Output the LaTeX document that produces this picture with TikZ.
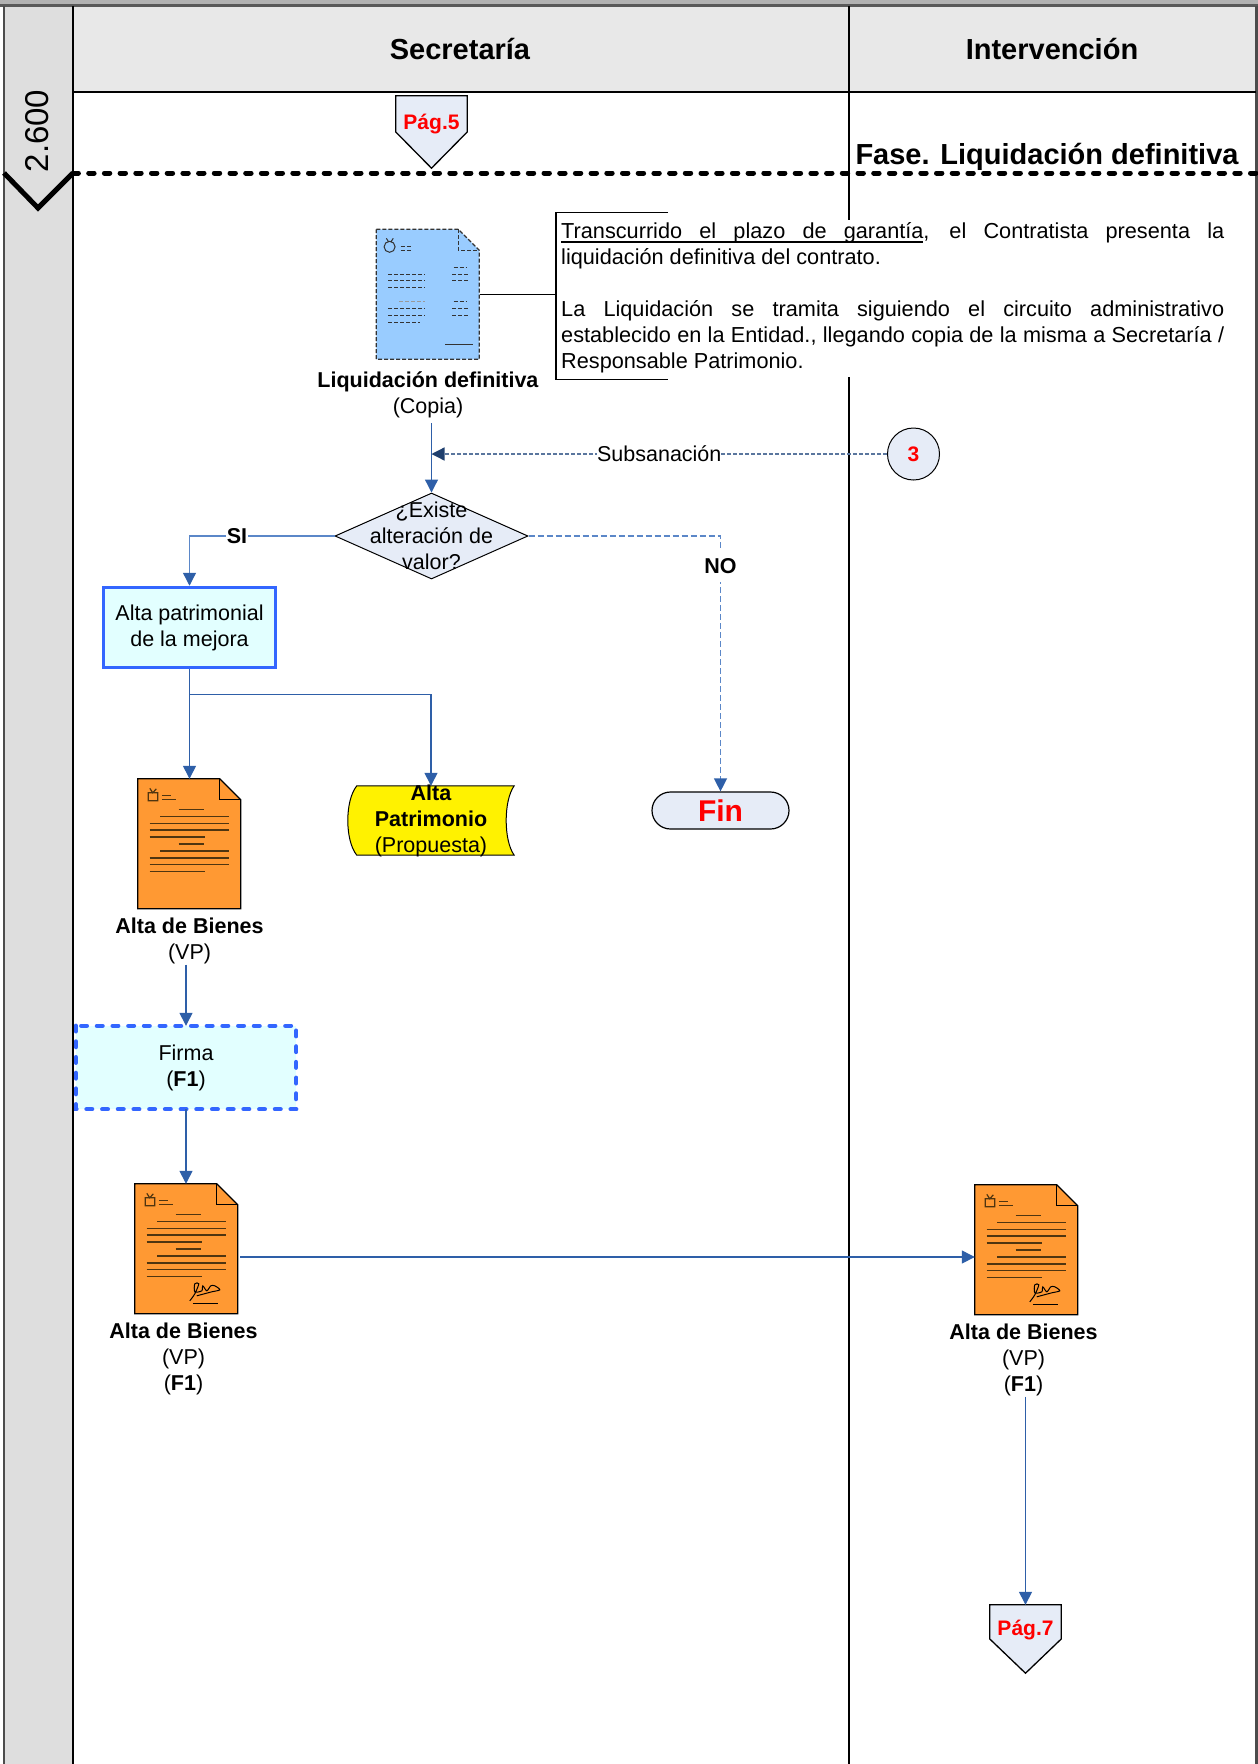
\documentclass[tikz,border=0pt]{standalone}
\usepackage{fontspec}
\setmainfont{Liberation Sans}
\usepackage{xcolor}
\usepackage{tikz}
\usetikzlibrary{arrows.meta,positioning,shapes.geometric}

\definecolor{azul}{HTML}{2E5FA8}
\definecolor{azulclaro}{HTML}{5B87C8}
\definecolor{pizarra}{HTML}{5A769E}
\definecolor{marino}{HTML}{1F3F6E}
\definecolor{borde}{HTML}{3366FF}
\definecolor{relleno}{HTML}{E6ECF7}
\definecolor{celeste}{HTML}{E2FFFF}
\definecolor{naranja}{HTML}{FF9933}
\definecolor{cielo}{HTML}{99CCFF}
\definecolor{tinta}{HTML}{4F3510}

% Underlined word and the stretching space after it
\newcommand{\subra}[1]{\setbox0\hbox{#1}\rlap{\rule[-4.2pt]{\wd0}{1.6pt}}\box0}
\newcommand{\subesp}{\leaders\hrule height -2.6pt depth 4.2pt\hskip\fontdimen2\font plus\fontdimen3\font minus\fontdimen4\font}

% Sheet drawn round a named node
\newcommand{\hojaforma}[3]{%
  \begin{scope}[shift={(#1.north west)}]
    \draw[line width=1.3pt, #3, fill=#2] (0,0) -- (82,0) -- (103,21) -- (103,130) -- (0,130) -- cycle;
    \draw[line width=1.3pt, #3] (82,0) -- (82,21) -- (103,21);
  \end{scope}}
\newcommand{\hojatexto}[1]{%
  \begin{scope}[shift={(#1.north west)}, tinta, line width=1.5pt]
    \draw[line width=1.2pt] (10.5,14) rectangle (20,22) (12,9.5) -- (15,14) -- (18.5,10);
    \draw (24,16.7) -- (33,16.7) (24,20.5) -- (38,20.5);
    \draw (40.7,30.7) -- (65.7,30.7) (22.3,37.7) -- (91.3,37.7);
    \draw (11.7,44.7) -- (91.3,44.7) (11.7,51.3) -- (91.3,51.3) (11.7,58.3) -- (67.3,58.3);
    \draw (40.7,65.3) -- (65.7,65.3) (22.3,72) -- (91.3,72);
    \draw (11.7,79) -- (91.3,79) (11.7,85.7) -- (91.3,85.7) (11.7,92.7) -- (67.3,92.7);
  \end{scope}}
\newcommand{\hojafirma}[1]{%
  \begin{scope}[shift={(#1.north west)}, black, line width=1pt]
    \draw plot[smooth] coordinates {(55,117) (60,110) (64,100) (60,100) (60,108) (67,107) (68,102) (72,107) (76,102) (80,102) (85,106) (77,108) (62,112)};
    \draw (58,120) -- (82.7,120);
  \end{scope}}

\begin{document}
\begin{tikzpicture}[
  x=1pt, y=-1pt,
  font=\fontsize{21.5}{26}\selectfont,
  base/.style={line width=1.3pt, black},
  titulo/.style={font=\fontsize{29}{34}\selectfont\bfseries},
  negrita/.style={font=\fontsize{21.5}{26}\selectfont\bfseries},
  rojo/.style={text=red, font=\fontsize{21}{25}\selectfont\bfseries},
  etiqueta/.style={align=center, inner sep=0pt},
  hoja/.style={minimum width=103pt, minimum height=130pt, inner sep=0pt},
  caja/.style={fill=celeste, align=center, inner sep=0pt},
  pagina/.style={minimum width=71pt, minimum height=72pt, inner sep=0pt},
  flecha/.style={-{Triangle[length=13pt,width=13pt,color=azul,fill=azul]}, azul, line width=1.3pt},
  rotulo/.style={fill=white, inner sep=1pt, text=black}
]
  \useasboundingbox (0,0) rectangle (1258,1764);

  % Lanes
  \fill[gray!60] (0,0) rectangle (1258,5);
  \fill[black!13] (4,6) rectangle (73,1764);
  \fill[black!9] (73,6) rectangle (1256,92);
  \draw[line width=2.5pt, black!65] (0,5.5) -- (1258,5.5);
  \draw[line width=2pt, black!70] (4,5.5) -- (4,1764);
  \draw[line width=2.5pt, black!70] (1256.5,5.5) -- (1256.5,1764);
  \draw[base] (73,5.5) -- (73,1764);
  \draw[base] (849,5.5) -- (849,1764);
  \draw[base] (73,92) -- (1256,92);
  \node[titulo] (secre) at (460,49) {Secretaría};
  \node[titulo] (inter) at (1052,49) {Intervención};

  % Phase mark
  \node[rotate=90, font=\fontsize{33}{38}\selectfont] (num) at (37,131) {2.600};
  \draw[black, line width=5pt, dash pattern=on 5.4pt off 10.3pt, line cap=round] (73,173) -- (1256,173);
  \draw[black, line width=5pt] (4,173) -- (38,208) -- (73,173);
  \node[titulo] (fase) at (1047,157) {Fase. Liquidación definitiva};

  % Page in
  \node[pagina] (pag5) at (431.5,132) {};
  \draw[base, fill=relleno] (pag5.north west) -- (pag5.north east) -- (pag5.east) -- (pag5.south) -- (pag5.west) -- cycle;
  \node[rojo] (txt5) at (431.5,124) {Pág.5};

  % Copy of the settlement
  \node[hoja] (liq) at (428,294.5) {};
  \hojaforma{liq}{cielo}{dash pattern=on 4pt off 2pt, black!80}
  \begin{scope}[shift={(liq.north west)}, black!80, line width=1pt, dash pattern=on 4pt off 2pt]
    \draw[solid] (13.3,17.5) circle (5.5) (10,9) -- (12,12) (17,9) -- (15,12);
    \draw (24.3,16.7) -- (35,16.7) (24.3,20.7) -- (35,20.7);
    \draw (11.7,44.7) -- (48.3,44.7) (11.7,51.3) -- (48.3,51.3) (11.7,58.3) -- (48.3,58.3);
    \draw[black!40] (22.7,72) -- (48.3,72);
    \draw (11.7,79) -- (48.3,79) (11.7,85.7) -- (48.3,85.7) (11.7,92.7) -- (43.3,92.7);
    \draw (77.3,38) -- (90,38) (76,44.7) -- (91.7,44.7) (76,51.3) -- (91.7,51.3);
    \draw (77.3,72) -- (90,72) (76,79) -- (91.7,79) (76,85.7) -- (91.7,85.7);
    \draw[solid] (68.7,115) -- (96.7,115);
  \end{scope}
  \node[etiqueta, below=12pt of liq] (liqtxt) {\textbf{Liquidación definitiva}\\(Copia)};

  % Note
  \node[fill=white, minimum height=157pt, text width=663pt, align=justify, inner xsep=5pt, inner ysep=0pt, anchor=west, font=\fontsize{21.7}{26}\selectfont] (nota) at (556,298)
    {\subra{Transcurrido}\subesp\subra{el}\subesp\subra{plazo}\subesp\subra{de}\subesp\subra{garantía}, el Contratista presenta la\linebreak liquidación definitiva del contrato.\\[26pt]
    La Liquidación se tramita siguiendo el circuito administrativo\linebreak establecido en la Entidad., llegando copia de la misma a Secretaría /\linebreak Responsable Patrimonio.};
  \draw[base] ([xshift=112pt,yshift=6.5pt]nota.north west) -- ([yshift=6.5pt]nota.north west) -- ([yshift=-2.5pt]nota.south west) -- ([xshift=112pt,yshift=-2.5pt]nota.south west);
  \draw[base] (liq.east) -- (liq.east -| nota.west);

  % Decision
  \node[diamond, draw, fill=relleno, line width=1pt, aspect=2.24, minimum width=193pt, minimum height=86pt, inner sep=0pt,
    label={[etiqueta]center:¿Existe\\alteración de\\valor?}] (dec) at (431.5,536) {};
  \node[circle, draw, fill=relleno, line width=1pt, minimum size=52pt, inner sep=0pt, rojo] (tres) at (913.5,454) {3};

  % Results
  \node[caja, draw=borde, line width=3.5pt, minimum width=172pt, minimum height=80pt] (alta) at (189.5,627.5) {Alta patrimonial\\de la mejora};
  \node[rounded corners=18.5pt, draw, fill=relleno, line width=1.2pt, minimum width=137pt, minimum height=37pt, inner sep=0pt, text=red, font=\fontsize{30}{34}\selectfont\bfseries] (fin) at (720.5,810.5) {Fin};

  \node[minimum width=166pt, minimum height=69pt, inner sep=0pt] (pat) at (431,820.5) {};
  \draw[fill=yellow, line width=1pt] ([xshift=9pt]pat.north west) .. controls ([xshift=-3pt,yshift=20pt]pat.west) and ([xshift=-3pt,yshift=-20pt]pat.west) .. ([xshift=9pt]pat.south west) -- (pat.south east) .. controls ([xshift=-10.7pt,yshift=-20pt]pat.east) and ([xshift=-10.7pt,yshift=20pt]pat.east) .. (pat.north east) -- cycle;
  \node[etiqueta] (pattxt) at (pat.center) {\textbf{Alta}\\\textbf{Patrimonio}\\(Propuesta)};

  % Signed sheets
  \node[hoja] (bien) at (189.5,844) {};
  \hojaforma{bien}{naranja}{black}
  \hojatexto{bien}
  \node[etiqueta, below=9pt of bien] (bientxt) {\textbf{Alta de Bienes}\\(VP)};

  \node[caja, minimum width=220pt, minimum height=83pt] (firma) at (186,1067.5) {Firma\\(\textbf{F1})};
  \draw[borde, line width=4.5pt, dash pattern=on 5.5pt off 10.2pt, line cap=round] (firma.north west) rectangle (firma.south east);

  \node[hoja] (bienf) at (186.5,1249) {};
  \hojaforma{bienf}{naranja}{black}
  \hojatexto{bienf}
  \hojafirma{bienf}
  \node[etiqueta, below=9pt of bienf, xshift=-3pt] (bienftxt) {\textbf{Alta de Bienes}\\(VP)\\(\textbf{F1})};

  \node[hoja] (bieni) at (1026.5,1250) {};
  \hojaforma{bieni}{naranja}{black}
  \hojatexto{bieni}
  \hojafirma{bieni}
  \node[etiqueta, below=9pt of bieni, xshift=-3pt] (bienitxt) {\textbf{Alta de Bienes}\\(VP)\\(\textbf{F1})};

  % Page out
  \node[pagina, minimum height=68pt] (pag7) at (1025.5,1639) {};
  \draw[base, fill=relleno] (pag7.north west) -- (pag7.north east) -- (pag7.east) -- (pag7.south) -- (pag7.west) -- cycle;
  \node[rojo] (txt7) at (1025.5,1630) {Pág.7};

  % Arrows
  \draw[flecha] ([yshift=-5pt]dec.north |- liqtxt.south) -- (dec.north);
  \draw[-{Triangle[length=13pt,width=13pt,color=marino,fill=marino]}, pizarra, line width=1.3pt, dash pattern=on 4pt off 2pt] (tres.west) -- (dec.north |- tres.west)
    node[pos=0.5, rotulo, inner xsep=0pt] (sub) {Subsanación};
  \draw[flecha, azulclaro] (dec.west) -| (alta.north) node[pos=0.336, rotulo, negrita] (si) {SI};
  \draw[flecha, azulclaro, dash pattern=on 6pt off 3pt] (dec.east) -| (fin.north) node[pos=0.559, rotulo, inner ysep=8pt, negrita] (no) {NO};
  \draw[flecha] (alta.south) -- (bien.north);
  \draw[flecha] ([yshift=-25pt]alta.south) -| (pat.north);
  \draw[flecha] (firma.north |- bientxt.south) -- (firma.north);
  \draw[flecha] (firma.south) -- (firma.south |- bienf.north);
  \draw[flecha] ([yshift=-8pt,xshift=2pt]bienf.east) -- ([yshift=-7pt]bieni.west);
  \draw[flecha] (pag7.north |- bienitxt.south) -- (pag7.north);
\end{tikzpicture}
\end{document}
